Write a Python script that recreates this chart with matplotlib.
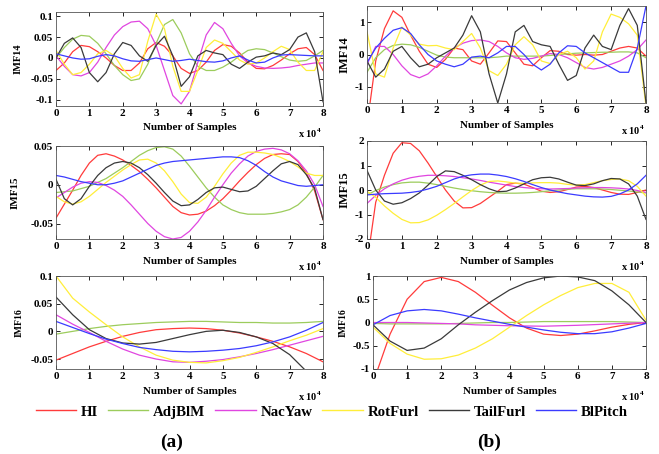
import matplotlib
matplotlib.use("Agg")
import matplotlib.pyplot as plt
from matplotlib.ticker import FuncFormatter

# ---------------- data (x in units of 1e4 samples) ----------------
series_names = ["HI", "AdjBlM", "NacYaw", "RotFurl", "TailFurl", "BlPitch"]
series_colors = ["#ff3b3b", "#9ccc5c", "#e046e0", "#ffee3a", "#3a3a3a", "#3b3bff"]

t_fine = [i * 0.25 for i in range(33)]
t_coarse = [i * 0.5 for i in range(17)]

# (a) IMF14
HI_a14 = [-0.030, -0.012, 0.015, 0.030, 0.027, 0.015, 0.000, -0.018, -0.030, -0.030, -0.012, 0.022, 0.037,
          0.028, 0.005, -0.025, -0.037, -0.030, -0.010, 0.018, 0.032, 0.028, 0.012, -0.010, -0.025, -0.026,
          -0.018, -0.005, 0.010, 0.022, 0.025, 0.008, -0.030]
AdjBlM_a14 = [0.000, 0.025, 0.045, 0.054, 0.052, 0.035, 0.010, -0.018, -0.040, -0.054, -0.050, -0.015, 0.035,
              0.080, 0.092, 0.060, 0.010, -0.020, -0.030, -0.030, -0.022, -0.010, 0.005, 0.018, 0.022, 0.020,
              0.012, 0.003, -0.005, -0.008, -0.006, 0.005, 0.018]
NacYaw_a14 = [0.005, -0.020, -0.040, -0.043, -0.035, -0.010, 0.025, 0.055, 0.075, 0.086, 0.088, 0.070, 0.030,
              -0.030, -0.090, -0.110, -0.080, -0.010, 0.055, 0.085, 0.070, 0.035, 0.005, -0.012, -0.020, -0.024,
              -0.025, -0.024, -0.022, -0.018, -0.015, -0.012, -0.012]
RotFurl_a14 = [0.018, -0.015, -0.040, -0.035, -0.015, 0.010, 0.018, 0.005, -0.025, -0.048, -0.040, 0.040, 0.105,
               0.070, -0.020, -0.080, -0.080, -0.030, 0.025, 0.043, 0.035, 0.015, -0.005, -0.015, -0.012, 0.000,
               0.015, 0.028, 0.020, -0.010, -0.030, -0.030, 0.015]
TailFurl_a14 = [0.000, 0.035, 0.048, 0.025, -0.035, -0.057, -0.035, 0.010, 0.037, 0.030, 0.005, -0.008, 0.030,
                0.052, 0.005, -0.068, -0.045, 0.005, 0.018, 0.012, 0.008, -0.015, -0.025, -0.010, 0.002, 0.005,
                0.012, 0.008, 0.020, 0.050, 0.060, 0.015, -0.105]
BlPitch_a14 = [0.010, 0.005, 0.000, -0.003, -0.002, 0.004, 0.008, 0.005, -0.002, -0.007, -0.008, -0.004, 0.000,
               -0.004, -0.008, -0.006, -0.003, -0.006, -0.009, -0.010, -0.007, 0.000, 0.005, -0.005, -0.012,
               -0.010, 0.000, 0.007, 0.008, 0.007, 0.006, 0.005, 0.005]

# (b) IMF14
HI_b14 = [-2.20, -0.20, 0.80, 1.35, 1.15, 0.60, 0.10, -0.30, -0.40, -0.15, 0.20, 0.15, -0.20, -0.30, 0.05,
          0.42, 0.40, 0.05, -0.30, -0.35, -0.10, 0.12, 0.10, 0.00, -0.02, 0.00, -0.02, 0.00, 0.10, 0.20, 0.25,
          0.20, -0.05]
AdjBlM_b14 = [-0.55, -0.10, 0.15, 0.28, 0.32, 0.30, 0.22, 0.10, -0.02, -0.08, -0.10, -0.10, -0.10, -0.10,
              -0.10, -0.08, -0.05, -0.05, -0.05, -0.05, -0.05, -0.03, 0.00, 0.02, 0.04, 0.05, 0.06, 0.07, 0.07,
              0.08, 0.08, 0.05, -0.10]
NacYaw_b14 = [-0.30, 0.25, 0.25, 0.00, -0.35, -0.62, -0.72, -0.60, -0.35, -0.05, 0.20, 0.35, 0.43, 0.45, 0.40,
              0.25, 0.05, -0.10, -0.15, -0.12, -0.05, 0.03, 0.00, -0.10, -0.25, -0.40, -0.45, -0.40, -0.30,
              -0.20, -0.05, 0.15, 0.45]
RotFurl_b14 = [0.70, -0.60, -0.70, 0.20, 0.85, 0.60, 0.32, 0.27, 0.28, 0.20, 0.15, 0.40, 0.65, 0.20, -0.50,
               -0.65, -0.30, 0.30, 0.55, 0.30, -0.20, -0.28, 0.00, 0.10, -0.10, -0.45, -0.20, 0.70, 1.25, 1.15,
               0.95, 0.60, -1.60]
TailFurl_b14 = [-0.20, -0.70, -0.45, 0.10, 0.25, -0.10, -0.38, -0.30, -0.10, 0.05, 0.20, 0.60, 1.20, 0.70,
                -0.60, -1.50, -0.60, 0.70, 0.90, 0.40, 0.30, 0.25, -0.30, -0.80, -0.65, 0.20, 0.60, 0.25, 0.15,
                0.90, 1.42, 0.90, -1.50]
BlPitch_b14 = [-0.25, 0.20, 0.50, 0.75, 0.83, 0.65, 0.30, 0.00, -0.20, -0.30, -0.38, -0.30, -0.08, -0.05,
               -0.10, 0.05, 0.25, 0.25, 0.00, -0.30, -0.48, -0.30, 0.05, 0.27, 0.25, 0.05, -0.10, -0.25, -0.40,
               -0.55, -0.55, 0.20, 1.50]

# (a) IMF15
HI_a15 = [-0.043, -0.025, -0.007, 0.012, 0.028, 0.038, 0.040, 0.037, 0.032, 0.025, 0.017, 0.007, -0.004,
          -0.016, -0.028, -0.036, -0.039, -0.038, -0.034, -0.027, -0.018, -0.007, 0.005, 0.016, 0.026, 0.034,
          0.039, 0.040, 0.039, 0.030, 0.015, -0.008, -0.045]
AdjBlM_a15 = [-0.010, -0.009, -0.008, -0.005, -0.002, 0.003, 0.008, 0.015, 0.022, 0.030, 0.038, 0.044, 0.048,
              0.049, 0.046, 0.037, 0.024, 0.010, -0.004, -0.016, -0.026, -0.032, -0.036, -0.038, -0.038, -0.038,
              -0.037, -0.035, -0.032, -0.026, -0.016, -0.003, 0.012]
NacYaw_a15 = [-0.017, -0.010, -0.003, 0.002, 0.004, 0.003, -0.001, -0.007, -0.015, -0.026, -0.038, -0.050,
              -0.060, -0.067, -0.070, -0.068, -0.060, -0.048, -0.033, -0.016, 0.000, 0.015, 0.027, 0.037, 0.043,
              0.046, 0.047, 0.045, 0.040, 0.031, 0.018, 0.000, -0.028]
RotFurl_a15 = [-0.015, -0.022, -0.025, -0.022, -0.015, -0.006, 0.003, 0.011, 0.019, 0.026, 0.032, 0.033, 0.028,
               0.018, 0.004, -0.012, -0.023, -0.024, -0.016, -0.002, 0.014, 0.028, 0.038, 0.042, 0.042, 0.041,
               0.039, 0.035, 0.030, 0.023, 0.015, 0.012, 0.012]
TailFurl_a15 = [0.007, -0.018, -0.026, -0.018, -0.002, 0.012, 0.022, 0.028, 0.030, 0.028, 0.022, 0.013, 0.002,
                -0.010, -0.021, -0.027, -0.026, -0.019, -0.010, -0.004, -0.003, -0.006, -0.009, -0.008, -0.002,
                0.008, 0.018, 0.027, 0.030, 0.026, 0.013, -0.005, -0.045]
BlPitch_a15 = [0.012, 0.010, 0.007, 0.004, 0.002, 0.000, 0.000, 0.002, 0.005, 0.010, 0.015, 0.020, 0.025, 0.028,
               0.030, 0.031, 0.032, 0.033, 0.034, 0.035, 0.036, 0.036, 0.035, 0.031, 0.025, 0.017, 0.010, 0.005,
               0.002, -0.001, -0.002, -0.001, 0.000]

# (b) IMF15
HI_b15 = [-3.00, -0.50, 0.60, 1.50, 1.93, 1.90, 1.60, 1.10, 0.55, 0.00, -0.45, -0.73, -0.72, -0.55, -0.30,
          -0.05, 0.22, 0.28, 0.24, 0.10, -0.05, -0.10, -0.07, 0.02, 0.12, 0.15, 0.10, 0.00, -0.10, -0.17, -0.18,
          -0.10, 0.00]
AdjBlM_b15 = [-0.20, -0.02, 0.12, 0.22, 0.29, 0.32, 0.32, 0.28, 0.22, 0.15, 0.08, 0.02, -0.03, -0.07, -0.10,
              -0.12, -0.13, -0.13, -0.12, -0.10, -0.07, -0.03, 0.00, 0.03, 0.05, 0.05, 0.05, 0.04, 0.02, -0.01,
              -0.04, -0.08, -0.12]
NacYaw_b15 = [-0.55, -0.22, 0.05, 0.25, 0.40, 0.50, 0.56, 0.60, 0.60, 0.58, 0.55, 0.50, 0.45, 0.39, 0.32, 0.26,
              0.20, 0.14, 0.10, 0.07, 0.05, 0.04, 0.05, 0.06, 0.08, 0.09, 0.10, 0.10, 0.09, 0.07, 0.04, -0.02,
              -0.10]
RotFurl_b15 = [-0.05, -0.30, -0.65, -0.95, -1.20, -1.34, -1.33, -1.22, -1.03, -0.80, -0.55, -0.28, -0.02, 0.20,
               0.35, 0.37, 0.33, 0.28, 0.27, 0.29, 0.30, 0.30, 0.28, 0.23, 0.20, 0.22, 0.30, 0.38, 0.43, 0.45,
               0.38, 0.15, -0.25]
TailFurl_b15 = [0.80, 0.00, -0.45, -0.58, -0.52, -0.35, -0.12, 0.20, 0.55, 0.78, 0.75, 0.60, 0.42, 0.22, 0.05,
                -0.07, -0.05, 0.08, 0.25, 0.42, 0.50, 0.52, 0.45, 0.32, 0.20, 0.18, 0.25, 0.38, 0.47, 0.45, 0.25,
                -0.25, -1.20]
BlPitch_b15 = [-0.20, -0.17, -0.15, -0.14, -0.13, -0.10, -0.05, 0.04, 0.15, 0.30, 0.45, 0.56, 0.62, 0.65, 0.65,
               0.61, 0.55, 0.46, 0.35, 0.22, 0.10, 0.00, -0.08, -0.15, -0.20, -0.25, -0.28, -0.29, -0.26, -0.16,
               0.00, 0.25, 0.60]

# (a) IMF16
HI_a16 = [-0.052, -0.040, -0.028, -0.018, -0.009, -0.002, 0.003, 0.005, 0.006, 0.005, 0.002, -0.003, -0.010,
          -0.018, -0.028, -0.040, -0.055]
AdjBlM_a16 = [-0.005, 0.000, 0.005, 0.009, 0.012, 0.014, 0.016, 0.017, 0.018, 0.018, 0.017, 0.016, 0.016, 0.015,
              0.015, 0.016, 0.018]
NacYaw_a16 = [0.030, 0.013, -0.002, -0.018, -0.032, -0.043, -0.050, -0.055, -0.056, -0.054, -0.051, -0.046,
              -0.040, -0.033, -0.025, -0.017, -0.009]
RotFurl_a16 = [0.100, 0.060, 0.035, 0.012, -0.010, -0.028, -0.043, -0.052, -0.056, -0.057, -0.053, -0.047,
               -0.038, -0.028, -0.017, -0.007, 0.005]
TailFurl_a16 = [0.062, 0.030, 0.003, -0.013, -0.021, -0.023, -0.020, -0.013, -0.006, 0.000, 0.002, -0.002,
                -0.010, -0.022, -0.042, -0.072, -0.110]
BlPitch_a16 = [0.018, 0.007, -0.004, -0.014, -0.022, -0.029, -0.033, -0.036, -0.037, -0.036, -0.034, -0.031,
               -0.026, -0.019, -0.010, 0.002, 0.016]

# (b) IMF16
HI_b16 = [-1.30, -0.25, 0.50, 0.88, 0.97, 0.88, 0.65, 0.37, 0.10, -0.12, -0.25, -0.28, -0.25, -0.18, -0.10,
          -0.04, 0.00]
AdjBlM_b16 = [-0.02, -0.03, -0.03, -0.03, -0.03, -0.02, -0.01, 0.00, 0.00, 0.01, 0.02, 0.02, 0.02, 0.02, 0.02,
              0.01, 0.00]
NacYaw_b16 = [0.00, 0.00, 0.00, -0.01, -0.02, -0.03, -0.05, -0.06, -0.07, -0.075, -0.08, -0.07, -0.06, -0.045,
              -0.03, -0.015, 0.00]
RotFurl_b16 = [-0.10, -0.45, -0.68, -0.79, -0.78, -0.70, -0.55, -0.35, -0.10, 0.15, 0.38, 0.58, 0.75, 0.84,
               0.84, 0.65, 0.05]
TailFurl_b16 = [-0.05, -0.40, -0.60, -0.55, -0.35, -0.05, 0.22, 0.47, 0.70, 0.86, 0.96, 1.00, 0.98, 0.90, 0.68,
                0.38, 0.00]
BlPitch_b16 = [-0.05, 0.15, 0.25, 0.28, 0.25, 0.18, 0.10, 0.03, -0.04, -0.10, -0.16, -0.21, -0.24, -0.24, -0.20,
               -0.12, -0.02]

x_ticks = [0, 1, 2, 3, 4, 5, 6, 7, 8]
yticks_a14 = [-0.1, -0.05, 0, 0.05, 0.1]
yticks_b14 = [-1, 0, 1]
yticks_a15 = [-0.05, 0, 0.05]
yticks_b15 = [-2, -1, 0, 1, 2]
yticks_a16 = [-0.05, 0, 0.05, 0.1]
yticks_b16 = [-1, -0.5, 0, 0.5, 1]

# ---------------- layout ----------------
W, H = 659, 454
FONT = "Liberation Serif"
plt.rcParams["font.family"] = [FONT, "DejaVu Serif"]
plt.rcParams["font.weight"] = "bold"
plt.rcParams["mathtext.fontset"] = "custom"
plt.rcParams["mathtext.rm"] = FONT + ":bold"
plt.rcParams["mathtext.bf"] = FONT + ":bold"

fig = plt.figure(figsize=(W / 100, H / 100), dpi=100)

panels = [
    # label, t, series, ylim, yticks, box px (left, top, right, bottom), ylabel x px, ylabel size
    ("IMF14", t_fine, [HI_a14, AdjBlM_a14, NacYaw_a14, RotFurl_a14, TailFurl_a14, BlPitch_a14],
     (-0.115, 0.11), yticks_a14, (56, 12, 323, 106), 18, 7.5),
    ("IMF14", t_fine, [HI_b14, AdjBlM_b14, NacYaw_b14, RotFurl_b14, TailFurl_b14, BlPitch_b14],
     (-1.5, 1.5), yticks_b14, (367, 6, 646, 103), 345, 9),
    ("IMF15", t_fine, [HI_a15, AdjBlM_a15, NacYaw_a15, RotFurl_a15, TailFurl_a15, BlPitch_a15],
     (-0.07, 0.05), yticks_a15, (56, 146, 323, 239), 15, 8),
    ("IMF15", t_fine, [HI_b15, AdjBlM_b15, NacYaw_b15, RotFurl_b15, TailFurl_b15, BlPitch_b15],
     (-2, 2), yticks_b15, (367, 141, 646, 239), 345, 9),
    ("IMF16", t_coarse, [HI_a16, AdjBlM_a16, NacYaw_a16, RotFurl_a16, TailFurl_a16, BlPitch_a16],
     (-0.068, 0.1), yticks_a16, (56, 276, 323, 369), 19, 7),
    ("IMF16", t_coarse, [HI_b16, AdjBlM_b16, NacYaw_b16, RotFurl_b16, TailFurl_b16, BlPitch_b16],
     (-1, 1), yticks_b16, (373, 276, 646, 369), 343, 7),
]

fmt = FuncFormatter(lambda v, p: "%g" % v)
lines_for_legend = None
for (lab, t, data, ylim, yt, (l, tp, r, b), ylx, yls) in panels:
    ax = fig.add_axes([l / W, 1 - b / H, (r - l) / W, (b - tp) / H])
    hs = []
    for name, col, ys in zip(series_names, series_colors, data):
        h, = ax.plot(t, ys, color=col, lw=0.9, label=name)
        hs.append(h)
    if lines_for_legend is None:
        lines_for_legend = hs
    ax.set_xlim(0, 8)
    ax.set_ylim(*ylim)
    ax.set_xticks(x_ticks)
    ax.set_yticks(yt)
    ax.yaxis.set_major_formatter(fmt)
    ax.tick_params(direction="in", length=3, width=0.6, top=True, right=True,
                   labelsize=8, pad=2)
    for lbl in ax.get_xticklabels() + ax.get_yticklabels():
        lbl.set_fontweight("bold")
    for sp in ax.spines.values():
        sp.set_linewidth(0.6)
        sp.set_color("#555555")
    cx = (l + r) / 2
    fig.text(cx / W, 1 - (b + 22) / H, "Number of Samples", ha="center", va="center",
             fontsize=8, fontweight="bold")
    fig.text((r - 1) / W, 1 - (b + 27) / H, r"x 10$^{4}$", ha="right", va="center",
             fontsize=7.5, fontweight="bold")
    fig.text(ylx / W, 1 - ((tp + b) / 2) / H, lab, rotation=90, ha="center", va="center",
             fontsize=yls, fontweight="bold")

leg = fig.legend(lines_for_legend, series_names, loc="center", ncol=6,
                 bbox_to_anchor=(332 / W, 1 - 412 / H), frameon=False,
                 prop={"family": FONT, "weight": "bold", "size": 10.7},
                 handlelength=2.7, handletextpad=0.33, columnspacing=0.67)
for hl in leg.get_lines():
    hl.set_linewidth(1.0)

fig.text(172 / W, 1 - 442 / H, "(a)", ha="center", va="center", fontsize=14, fontweight="bold")
fig.text(489 / W, 1 - 442 / H, "(b)", ha="center", va="center", fontsize=14, fontweight="bold")

fig.savefig("out.png", dpi=100)
